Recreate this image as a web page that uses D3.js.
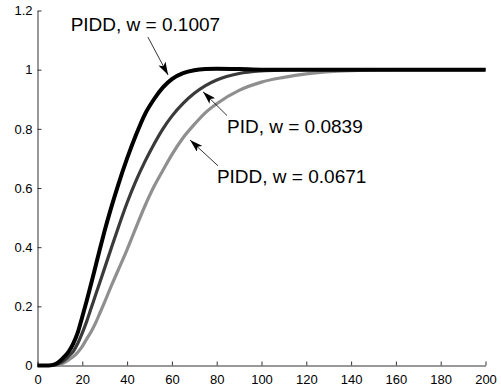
<!DOCTYPE html>
<html>
<head>
<meta charset="utf-8">
<script src="https://cdn.jsdelivr.net/npm/d3@7"></script>
<style>
    body { margin: 0; background: #fff; }
    text { font-family: "Liberation Sans", Arial, Helvetica, sans-serif; }
</style>
</head>
<body>
<script>
//place script in anon function
(function(){

// time samples shared by all three responses
var timeArray = [0, 5, 8, 10, 12, 14, 16, 18, 20, 22, 24, 26, 28, 30, 33, 36, 40, 44, 48, 52, 56, 60, 65, 70, 75, 80, 90, 100, 110, 120, 140, 160, 180, 200];

// step response values
var piddFast = [0, 0, 0.005, 0.015, 0.03, 0.048, 0.075, 0.112, 0.165, 0.22, 0.278, 0.338, 0.398, 0.456, 0.536, 0.61, 0.70, 0.78, 0.85, 0.90, 0.94, 0.968, 0.988, 0.998, 1.002, 1.003, 1.002, 1.0, 1.0, 1.0, 1.0, 1.0, 1.0, 1.0];
var pidMid = [0, 0, 0.002, 0.008, 0.018, 0.032, 0.048, 0.075, 0.11, 0.15, 0.195, 0.24, 0.285, 0.33, 0.398, 0.465, 0.55, 0.625, 0.69, 0.748, 0.80, 0.843, 0.886, 0.92, 0.946, 0.965, 0.987, 0.996, 0.999, 1.0, 1.0, 1.0, 1.0, 1.0];
var piddSlow = [0, 0, 0.001, 0.004, 0.01, 0.02, 0.03, 0.045, 0.065, 0.09, 0.115, 0.145, 0.18, 0.215, 0.27, 0.322, 0.392, 0.467, 0.54, 0.605, 0.66, 0.713, 0.77, 0.815, 0.855, 0.885, 0.93, 0.958, 0.974, 0.986, 0.997, 1.0, 1.0, 1.0];

// series labels
var labelArray = ["PIDD, w = 0.1007", "PID, w = 0.0839", "PIDD, w = 0.0671"];

// tick labels
var xTicks = [0, 20, 40, 60, 80, 100, 120, 140, 160, 180, 200];
var yTicks = [0, 0.2, 0.4, 0.6, 0.8, 1, 1.2];

// frame dimensions
var width = 501,
    height = 392,
    left = 37.5,
    right = 485.5,
    top = 10.5,
    bottom = 365.5;

var xScale = d3.scaleLinear()
    .domain([0, 200])
    .range([left, right]);

var yScale = d3.scaleLinear()
    .domain([0, 1.2])
    .range([bottom, top]);

var svg = d3.select("body")
    .append("svg")
    .attr("width", width)
    .attr("height", height);

// arrowhead marker
svg.append("defs")
    .append("marker")
    .attr("id", "head")
    .attr("viewBox", "0 0 13 8")
    .attr("refX", 13)
    .attr("refY", 4)
    .attr("markerWidth", 13)
    .attr("markerHeight", 8)
    .attr("markerUnits", "userSpaceOnUse")
    .attr("orient", "auto")
    .append("path")
    .attr("d", "M0,0 L13,4 L0,8 L3,4 Z")
    .attr("fill", "#000");

// axes, ticks pointing inward
var yAxis = d3.axisLeft(yScale)
    .tickValues(yTicks)
    .tickSizeInner(-4)
    .tickSizeOuter(0)
    .tickPadding(5)
    .tickFormat(function(d){ return String(+d.toFixed(1)); });

var xAxis = d3.axisBottom(xScale)
    .tickValues(xTicks)
    .tickSizeInner(-4)
    .tickSizeOuter(0)
    .tickPadding(9)
    .tickFormat(function(d){ return d; });

svg.append("g")
    .attr("class", "axis")
    .attr("transform", "translate(" + left + ",0)")
    .call(yAxis);

svg.append("g")
    .attr("class", "axis")
    .attr("transform", "translate(0," + bottom + ")")
    .call(xAxis);

svg.selectAll(".axis path, .axis line")
    .attr("stroke", "#333")
    .attr("stroke-width", 1);

svg.selectAll(".axis text")
    .attr("font-size", 13)
    .attr("fill", "#000")
    .style("font-family", "'Liberation Sans', Arial, sans-serif");

// build the series list
var series = [
    {values: piddSlow, color: "#8f8f8f", width: 3.2},
    {values: pidMid, color: "#3a3a3a", width: 3.2},
    {values: piddFast, color: "#000", width: 4}
];

var line = d3.line()
    .x(function(d, i){ return xScale(timeArray[i]); })
    .y(function(d){ return yScale(d); })
    .curve(d3.curveMonotoneX);

svg.selectAll(".response")
    .data(series)
    .enter()
    .append("path")
    .attr("class", "response")
    .attr("d", function(d){ return line(d.values); })
    .attr("fill", "none")
    .attr("stroke", function(d){ return d.color; })
    .attr("stroke-width", function(d){ return d.width; })
    .attr("stroke-linejoin", "round");

// annotations: text anchor and arrow in data units
var notes = [
    {label: labelArray[0], tx: 14.8, ty: 1.131, ax: 49.3, ay: 1.11, bx: 58.3, by: 0.982},
    {label: labelArray[1], tx: 84.6, ty: 0.786, ax: 84.6, ay: 0.845, bx: 73.9, by: 0.925},
    {label: labelArray[2], tx: 80.1, ty: 0.617, ax: 80.6, ay: 0.675, bx: 68.1, by: 0.762}
];

svg.selectAll(".arrow")
    .data(notes)
    .enter()
    .append("line")
    .attr("class", "arrow")
    .attr("x1", function(d){ return xScale(d.ax); })
    .attr("y1", function(d){ return yScale(d.ay); })
    .attr("x2", function(d){ return xScale(d.bx); })
    .attr("y2", function(d){ return yScale(d.by); })
    .attr("stroke", "#000")
    .attr("stroke-width", 0.8)
    .attr("marker-end", "url(#head)");

svg.selectAll(".note")
    .data(notes)
    .enter()
    .append("text")
    .attr("class", "note")
    .attr("x", function(d){ return xScale(d.tx); })
    .attr("y", function(d){ return yScale(d.ty); })
    .attr("font-size", 19)
    .attr("fill", "#000")
    .text(function(d){ return d.label; });

})();
</script>
</body>
</html>
